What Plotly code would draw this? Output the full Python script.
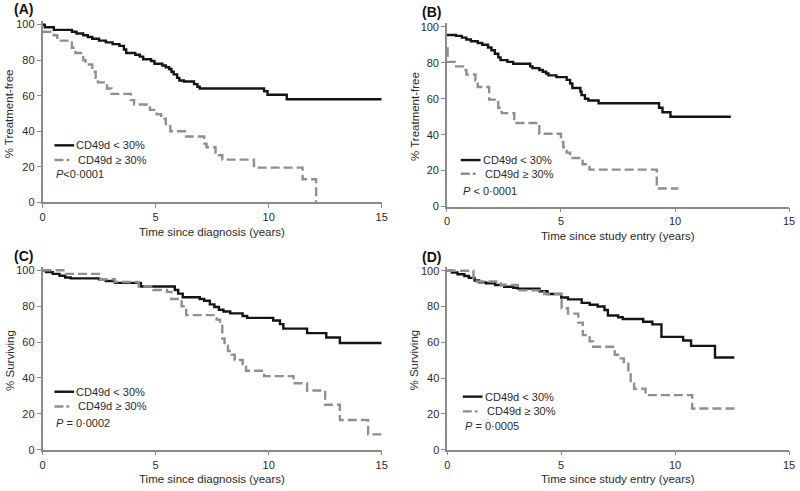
import plotly.graph_objects as go

# ---------------- data ----------------
# Panel A: treatment-free, time since diagnosis
A_lo_t = [0, 0.1, 0.5, 1.3, 1.5, 1.8, 2.0, 2.2, 2.5, 2.8, 3.1, 3.4, 3.6, 3.7, 4.1, 4.3, 4.45, 4.8, 4.95, 5.3, 5.45, 5.6, 5.7, 5.8, 5.95, 6.05, 6.25, 6.7, 6.85, 6.95, 9.8, 9.95, 10.8, 15]
A_lo_s = [100, 98.5, 97, 96, 95, 94, 93, 92, 91, 90, 89, 88, 86, 84, 83, 82, 80.5, 79.5, 78, 77, 76, 75, 73.5, 72, 70, 68.5, 68, 66.5, 65, 64, 62.5, 60.5, 58, 58]
A_hi_t = [0, 0.5, 0.65, 1.3, 1.45, 1.8, 1.9, 2.2, 2.35, 2.45, 2.85, 3.05, 3.9, 4.05, 4.75, 5.05, 5.25, 5.45, 5.65, 6.35, 7.15, 7.25, 7.65, 7.8, 7.95, 9.35, 11.5, 12.1]
A_hi_s = [96, 94, 91, 87, 84, 80, 77.5, 73.5, 70, 67.5, 64, 61, 57.5, 55, 52, 49.5, 47, 44, 40, 37, 33, 31, 28, 26.5, 24, 19.5, 13, 0]

# Panel B: treatment-free, time since study entry
B_lo_t = [0, 0.4, 0.65, 0.85, 1.05, 1.35, 1.55, 1.8, 1.95, 2.1, 2.25, 2.35, 2.65, 2.9, 3.65, 3.75, 4.05, 4.2, 4.35, 4.45, 4.8, 5.25, 5.4, 5.5, 5.85, 5.9, 6.05, 6.2, 6.65, 9.3, 9.45, 9.8, 12.45]
B_lo_s = [95.5, 95, 94, 93, 92, 91, 90, 88.5, 87, 85, 83, 81.5, 80.5, 79.5, 78, 77, 76, 75, 74, 73, 72, 70.5, 68.5, 66, 64, 62, 60, 59, 57.5, 55, 52.5, 50, 50]
B_hi_t = [0, 0.03, 0.35, 0.7, 0.85, 1.25, 1.35, 1.85, 2.25, 2.4, 2.95, 4.05, 5.0, 5.1, 5.25, 5.4, 5.95, 6.25, 9.2, 10.15]
B_hi_s = [88, 80.5, 78, 76, 73.5, 70, 66.5, 59.5, 55, 52, 46.5, 40.5, 36, 33, 30, 27, 23.5, 20.5, 10, 10]

# Panel C: surviving, time since diagnosis
C_lo_t = [0, 0.15, 0.45, 0.75, 1.0, 1.25, 2.5, 2.8, 3.2, 4.35, 5.85, 6.0, 6.2, 6.95, 7.15, 7.4, 7.6, 7.8, 8.0, 8.3, 8.85, 9.05, 10.2, 10.5, 10.65, 11.7, 12.55, 13.15, 15]
C_lo_s = [100, 99, 98, 97, 96, 95.5, 95, 94, 93, 91, 89, 87, 85, 84, 83, 81, 79.5, 78, 77, 76, 74.5, 73.5, 72, 70, 67.5, 65, 62.5, 59.5, 59.5]
C_hi_t = [0, 1.0, 2.55, 3.2, 4.25, 4.9, 5.5, 5.7, 6.15, 6.35, 7.7, 7.85, 7.95, 8.05, 8.2, 8.35, 8.5, 8.85, 9.0, 9.8, 11.1, 11.7, 12.5, 13.15, 14.4, 15]
C_hi_s = [100, 98, 95, 93.5, 91, 89, 88, 84, 80, 75, 72.5, 69, 62, 58, 55, 53, 50, 47, 44, 41, 37, 33, 25, 16.5, 8.5, 8.5]

# Panel D: surviving, time since study entry
D_lo_t = [0, 0.2, 0.45, 0.75, 0.95, 1.2, 1.4, 1.7, 2.1, 2.5, 2.9, 3.1, 4.05, 4.4, 5.0, 5.3, 5.9, 6.25, 6.6, 6.9, 7.05, 7.5, 7.7, 8.6, 9.0, 9.4, 10.35, 10.7, 11.75, 12.6]
D_lo_s = [100, 99, 98, 97, 96, 94.5, 93.5, 93, 92, 91, 90.5, 90, 88.5, 87, 85, 84, 82, 81, 80, 78, 75, 74, 73, 71.5, 70, 63, 61, 58, 51.5, 51.5]
D_hi_t = [0, 1.15, 2.35, 3.1, 4.25, 5.0, 5.02, 5.3, 5.75, 5.95, 6.25, 6.4, 7.35, 7.55, 7.75, 7.95, 8.05, 8.2, 8.7, 10.75, 12.7]
D_hi_s = [100, 94, 92, 89, 87, 85, 79, 76, 71, 64, 60.5, 57.5, 53, 51, 49, 42, 37, 34, 30.5, 23, 23]

x_ticks = [0, 5, 10, 15]
y_ticks = [0, 20, 40, 60, 80, 100]
group_labels = ["CD49d < 30%", "CD49d ≥ 30%"]

panels = [
    dict(tag="(A)", lo=(A_lo_t, A_lo_s), hi=(A_hi_t, A_hi_s), ytitle="% Treatment-free",
         xtitle="Time since diagnosis (years)", p="<i>P</i><0·0001"),
    dict(tag="(B)", lo=(B_lo_t, B_lo_s), hi=(B_hi_t, B_hi_s), ytitle="% Treatment-free",
         xtitle="Time since study entry (years)", p="<i>P</i> < 0·0001"),
    dict(tag="(C)", lo=(C_lo_t, C_lo_s), hi=(C_hi_t, C_hi_s), ytitle="% Surviving",
         xtitle="Time since diagnosis (years)", p="<i>P</i> = 0·0002"),
    dict(tag="(D)", lo=(D_lo_t, D_lo_s), hi=(D_hi_t, D_hi_s), ytitle="% Surviving",
         xtitle="Time since study entry (years)", p="<i>P</i> = 0·0005"),
]

# ---------------- layout geometry (pixels) ----------------
W, H = 800, 491
# (x at 0, x at 15, y-pixel at 0, y-pixel at 100)
geom = [(40, 383, 203, 22), (449, 795, 207.3, 24.3), (40, 383, 455, 272.3), (449.3, 795, 455, 272.7)]
tag_pos = [(21, 6), (433, 9), (21, 258), (433, 259)]
ytitle_x = [7, 416, 7, 416]
legend_pos = [(52, 145, 160, 174), (463, 160, 174, 192), (52, 396, 411, 428), (465, 401, 416, 431)]

BLACK = "#141414"
GREY = "#8f8f8f"
AXIS = "#8a8a8a"
TEXT = "#2a2a2a"
FONT = "Liberation Sans, Arial, sans-serif"
YMAX = 102

fig = go.Figure()
annotations = []
shapes = []
layout = {}

for i, (p, g) in enumerate(zip(panels, geom)):
    n = "" if i == 0 else str(i + 1)
    x0, x15, y0p, y100p = g
    ytop = y0p - YMAX * (y0p - y100p) / 100
    xd = [x0 / W, x15 / W]
    yd = [1 - y0p / H, 1 - ytop / H]
    axis_common = dict(showline=True, linecolor=AXIS, linewidth=1.5, ticks="outside",
                       tickcolor=AXIS, ticklen=4, tickwidth=1.2, showgrid=False, zeroline=False,
                       tickfont=dict(family=FONT, size=11, color=TEXT))
    layout["xaxis" + n] = dict(domain=xd, range=[0, 15], tickvals=x_ticks, anchor="y" + n,
                               **axis_common)
    layout["yaxis" + n] = dict(domain=yd, range=[0, YMAX], tickvals=y_ticks, anchor="x" + n,
                               **axis_common)
    fig.add_trace(go.Scatter(x=p["lo"][0], y=p["lo"][1], mode="lines", line_shape="hv",
                             line=dict(color=BLACK, width=2.4), name=group_labels[0],
                             xaxis="x" + n, yaxis="y" + n, showlegend=False))
    fig.add_trace(go.Scatter(x=p["hi"][0], y=p["hi"][1], mode="lines", line_shape="hv",
                             line=dict(color=GREY, width=2.4, dash="9px,4px"), name=group_labels[1],
                             xaxis="x" + n, yaxis="y" + n, showlegend=False))

    # panel tag
    tx, ty = tag_pos[i]
    annotations.append(dict(text="<b>" + p["tag"] + "</b>", x=tx / W, y=1 - ty / H, xref="paper",
                            yref="paper", showarrow=False, xanchor="center", yanchor="middle",
                            font=dict(family=FONT, size=14, color="#111")))
    # axis titles
    annotations.append(dict(text=p["ytitle"], x=ytitle_x[i] / W, y=1 - (y0p + y100p) / 2 / H,
                            xref="paper", yref="paper", showarrow=False, textangle=-90,
                            xanchor="center", yanchor="middle",
                            font=dict(family=FONT, size=11.5, color=TEXT)))
    annotations.append(dict(text=p["xtitle"], x=(x0 + x15) / 2 / W, y=1 - (y0p + 30) / H,
                            xref="paper", yref="paper", showarrow=False,
                            xanchor="center", yanchor="middle",
                            font=dict(family=FONT, size=11.5, color=TEXT)))
    # legend key
    lx, ly1, ly2, lyp = legend_pos[i]
    shapes.append(dict(type="line", xref="paper", yref="paper", x0=lx / W, x1=(lx + 20) / W,
                       y0=1 - ly1 / H, y1=1 - ly1 / H, line=dict(color=BLACK, width=2.4)))
    shapes.append(dict(type="line", xref="paper", yref="paper", x0=lx / W, x1=(lx + 15) / W,
                       y0=1 - ly2 / H, y1=1 - ly2 / H,
                       line=dict(color=GREY, width=2.4, dash="9px,3px")))
    annotations.append(dict(text=group_labels[0], x=(lx + 20) / W, y=1 - ly1 / H, xref="paper",
                            yref="paper", showarrow=False, xanchor="left", yanchor="middle",
                            font=dict(family=FONT, size=11, color=TEXT)))
    annotations.append(dict(text=group_labels[1], x=(lx + 22) / W, y=1 - ly2 / H, xref="paper",
                            yref="paper", showarrow=False, xanchor="left", yanchor="middle",
                            font=dict(family=FONT, size=11, color=TEXT)))
    annotations.append(dict(text=p["p"], x=lx / W, y=1 - lyp / H, xref="paper",
                            yref="paper", showarrow=False, xanchor="left", yanchor="middle",
                            font=dict(family=FONT, size=11, color=TEXT)))

fig.update_layout(width=W, height=H, margin=dict(l=0, r=0, t=0, b=0),
                  paper_bgcolor="white", plot_bgcolor="white", showlegend=False,
                  annotations=annotations, shapes=shapes, **layout)

fig.write_html("out.html", config={"displayModeBar": False},
               post_script="document.body.style.margin='0';")
